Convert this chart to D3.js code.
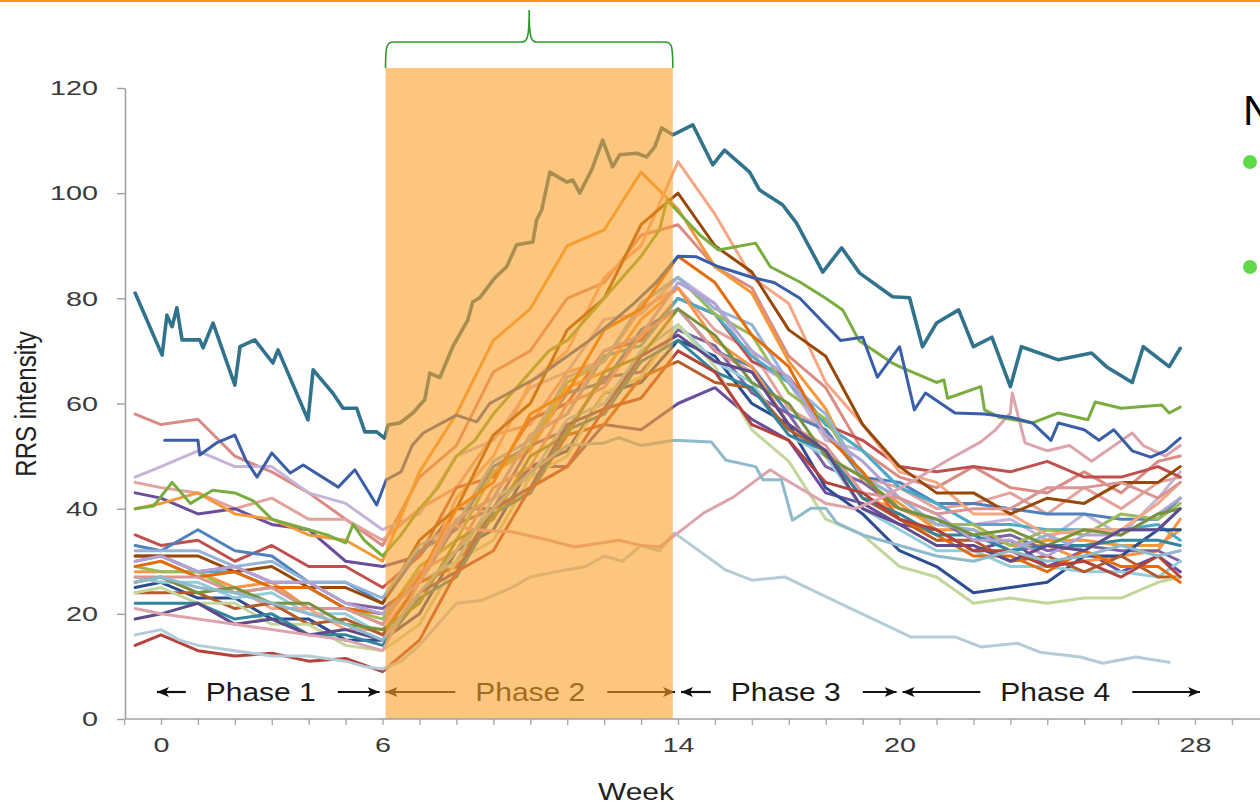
<!DOCTYPE html>
<html><head><meta charset="utf-8">
<script src="https://cdn.jsdelivr.net/npm/d3@7"></script>
<style>html,body{margin:0;padding:0;background:#fff;overflow:hidden}svg{display:block}</style>
</head><body><svg id="c" width="1260" height="807"></svg>
<script>
// ---------- DATA ----------
const yTicks = [0, 20, 40, 60, 80, 100, 120];
const xTickLabels = [0, 6, 14, 20, 28];
const xMinorTicks = d3.range(-1, 30);
const phaseNames = ["Phase 1", "Phase 2", "Phase 3", "Phase 4"];
const phaseStarts = [0, 6, 14, 20];
const phaseEnds = [6, 14, 20, 28];
const phase2Band = [6.08, 13.86];

// common weekly grid for most subjects
const weekGrid = [-0.7, 0, 1, 2, 3, 4, 5, 6, 7, 8, 9, 10, 11, 12, 13, 14, 15, 16, 17, 18, 19, 20, 21, 22, 23, 24, 25, 26, 27, 27.6];
const salmon    = [58, 56, 57, 50, 47, 43, 38, 33, 46, 52, 66, 70, 80, 83, 92, 94, 86, 82, 69, 63, 51, 46, 44, 48, 44, 43, 47, 43, 49, 50];
const lavender  = [46, 48, 51, 48, 48, 43, 41, 36, 39, 50, 53, 63, 66, 76, 77, 84, 79, 68, 64, 53, 51, 44, 41, 37, 38, 34, 39, 35, 42, 47];
const pink2     = [45, 44, 43, 40, 42, 38, 38, 34, 40, 44, 54, 56, 66, 68, 78, 82, 74, 70, 59, 55, 46, 44, 40, 41, 43, 39, 44, 40, 45, 46];
const purple    = [43, 42, 39, 40, 37, 36, 30, 29, 31, 40, 40, 48, 48, 56, 55, 60, 63, 57, 53, 43, 41, 37, 36, 32, 34, 29, 32, 28, 31, 28];
const orange    = [40, 41, 43, 39, 38, 35, 34, 30, 47, 58, 72, 78, 90, 93, 104, 97, 86, 81, 68, 59, 45, 41, 36, 36, 33, 34, 34, 33, 33, 36];
const red       = [35, 33, 34, 30, 33, 29, 29, 25, 31, 44, 46, 57, 60, 70, 72, 80, 77, 68, 65, 56, 53, 48, 47, 48, 47, 49, 46, 46, 48, 46];
const blue2     = [33, 32, 36, 32, 31, 26, 26, 22, 32, 36, 48, 52, 62, 64, 74, 78, 70, 67, 58, 55, 46, 45, 41, 41, 40, 39, 39, 38, 38, 42];
const cyan      = [30, 31, 28, 28, 25, 25, 21, 20, 26, 38, 42, 54, 58, 69, 71, 80, 77, 69, 64, 56, 51, 44, 41, 37, 37, 36, 36, 36, 37, 34];
const orange2   = [28, 28, 28, 25, 26, 21, 21, 18, 29, 34, 47, 51, 63, 66, 76, 82, 72, 67, 56, 51, 42, 40, 37, 37, 33, 33, 30, 31, 32, 38];
const purple3   = [31, 31, 28, 29, 26, 26, 22, 21, 26, 37, 40, 52, 55, 65, 66, 74, 71, 62, 58, 48, 45, 40, 38, 34, 35, 32, 33, 32, 32, 30];
const olive     = [29, 28, 28, 24, 25, 21, 21, 19, 29, 34, 47, 52, 64, 68, 79, 84, 77, 73, 62, 57, 46, 42, 37, 37, 33, 36, 35, 39, 38, 41];
const navy      = [25, 26, 23, 23, 19, 19, 15, 15, 20, 32, 36, 48, 51, 62, 64, 72, 69, 60, 56, 44, 39, 32, 29, 24, 25, 26, 31, 31, 36, 36];
const lightCyan = [27, 26, 26, 23, 24, 20, 20, 16, 26, 30, 42, 46, 57, 60, 70, 75, 68, 64, 54, 50, 40, 36, 32, 32, 29, 29, 28, 28, 27, 30];
const peach     = [26, 27, 24, 25, 21, 21, 17, 17, 26, 42, 50, 64, 70, 84, 90, 106, 96, 84, 79, 64, 56, 47, 45, 39, 39, 35, 36, 36, 41, 45];
const rust      = [24, 24, 24, 21, 22, 18, 19, 16, 26, 29, 40, 43, 54, 56, 65, 68, 64, 63, 55, 51, 42, 38, 34, 34, 30, 31, 28, 31, 27, 27];
const brown     = [31, 31, 31, 28, 29, 25, 25, 22, 34, 40, 54, 60, 74, 80, 94, 100, 90, 85, 74, 69, 56, 48, 43, 43, 39, 42, 41, 45, 45, 48];
const paleGreen = [24, 25, 22, 22, 18, 18, 14, 13, 18, 30, 34, 46, 50, 62, 65, 75, 67, 55, 49, 38, 35, 29, 27, 22, 23, 22, 23, 23, 26, 27];
const lightBlue2= [32, 32, 32, 29, 30, 26, 26, 23, 33, 37, 49, 53, 65, 68, 79, 84, 78, 75, 64, 58, 46, 42, 37, 36, 32, 35, 32, 36, 36, 40];
const darkOrange= [29, 30, 27, 28, 25, 25, 21, 20, 27, 40, 45, 58, 62, 74, 78, 88, 83, 73, 67, 54, 47, 38, 35, 31, 31, 28, 32, 29, 29, 26];
const darkCyan  = [22, 22, 22, 19, 20, 16, 16, 14, 23, 27, 39, 43, 55, 58, 68, 72, 66, 63, 54, 51, 42, 39, 35, 35, 32, 33, 33, 34, 34, 33];
const lavender2 = [30, 31, 28, 29, 26, 26, 22, 20, 26, 38, 42, 54, 58, 70, 73, 83, 79, 70, 65, 54, 49, 42, 39, 34, 34, 31, 35, 35, 39, 42];
const rosy      = [27, 27, 27, 24, 25, 21, 21, 18, 28, 32, 44, 48, 60, 63, 73, 78, 70, 66, 56, 52, 43, 42, 39, 40, 40, 44, 44, 45, 42, 45];
const darkOlive = [26, 27, 24, 25, 22, 22, 18, 17, 22, 34, 38, 50, 54, 66, 69, 78, 73, 64, 60, 50, 46, 40, 38, 35, 36, 33, 36, 35, 39, 40];
const purple2   = [19, 20, 22, 18, 19, 16, 17, 15, 24, 28, 40, 44, 56, 59, 69, 73, 68, 66, 56, 51, 40, 37, 33, 33, 30, 33, 32, 36, 36, 40];
const red2      = [14, 16, 13, 12, 12.5, 11, 11.5, 9, 15, 28, 32, 44, 48, 59, 61, 70, 66, 56, 53, 45, 43, 38, 36, 32, 32, 29, 30, 27, 31, 27];

// finely traced subjects: [week, RRS]
const tealTop = [[-0.7,81],[0.03,69.2],[0.16,76.8],[0.3,74.6],[0.43,78.2],[0.57,72.1],[1.05,72.1],[1.14,70.6],[1.41,75.3],[2.0,63.5],[2.14,70.8],[2.54,72.1],[3.03,67.7],[3.17,70.2],[3.98,56.9],[4.12,66.4],[4.65,62.0],[4.93,59.1],[5.3,59.1],[5.52,54.6],[5.84,54.6],[6.05,53.4],[6.15,55.9],[6.47,56.3],[6.82,58.2],[7.14,60.7],[7.28,65.8],[7.55,64.9],[7.9,70.8],[8.31,75.9],[8.44,79.3],[8.63,80.1],[9.04,83.9],[9.36,86.0],[9.63,90.2],[10.07,90.7],[10.17,94.9],[10.31,96.8],[10.53,104.0],[10.99,102.1],[11.15,102.5],[11.34,100.0],[11.66,104.4],[11.96,110.1],[12.23,105.0],[12.42,107.3],[12.88,107.6],[13.15,106.9],[13.37,108.8],[13.56,112.4],[13.86,111.1],[14.4,113.0],[14.94,105.4],[15.26,108.2],[15.94,104.0],[16.21,100.6],[16.83,97.8],[17.21,94.3],[17.92,85.0],[18.43,89.6],[18.92,84.8],[19.81,80.3],[20.27,80.1],[20.62,70.8],[21.0,75.3],[21.6,77.8],[22.0,70.8],[22.5,72.6],[23.0,63.2],[23.3,70.8],[24.3,68.3],[25.2,69.6],[25.6,67.0],[26.3,64.0],[26.6,70.8],[27.3,67.0],[27.6,70.5]];
const blueMain = [[0.1,53],[1.0,53],[1.05,50.2],[1.5,52.5],[2.0,54],[2.3,49.2],[2.6,46],[3.0,50.6],[3.5,46.8],[3.85,48.3],[4.8,44.1],[5.25,47.4],[5.84,40.7],[6.1,45.5],[6.5,47],[6.8,52],[7.1,54.4],[8.0,57.8],[8.55,56.5],[8.9,60],[10.2,65],[11,69],[11.6,72],[12.3,76],[12.8,79],[13.4,83],[14.0,88],[14.5,87.9],[15.1,86],[16.0,84],[16.6,83],[17.3,80],[18.4,72],[19.0,72.6],[19.4,65],[20.0,70.8],[20.4,58.8],[20.7,62],[21.5,58.2],[22.3,58],[23.0,57.4],[23.6,56.3],[24.1,53],[24.3,56.3],[25.0,55],[25.4,53],[25.8,55],[26.3,51],[26.8,49.8],[27.2,51],[27.6,53.4]];
const greenMain = [[-0.7,40],[-0.2,40.5],[0.3,45],[0.8,41],[1.4,43.5],[2.0,43],[2.5,41.5],[3.0,38],[3.5,37],[4.0,36],[4.5,35],[5.0,33.5],[5.2,37],[5.5,34],[6.0,31],[6.5,35],[7,40],[7.5,44],[8,50],[8.5,53],[9,58],[9.5,62],[10,66],[10.5,70],[11,72],[11.5,76],[12,80],[12.5,84],[13,88],[13.5,93],[13.7,98.7],[14.6,92],[15.1,89.2],[16.1,90.5],[16.5,86],[17.3,83.1],[18.0,80],[18.46,77.8],[18.9,72],[19.8,67.7],[20.0,67],[21.0,64],[21.2,64.5],[21.3,61],[22.2,63.2],[22.3,58.8],[22.7,57.4],[23.6,56.3],[24.3,58.2],[25.1,56.9],[25.3,60.3],[26.0,59.1],[27.1,59.7],[27.3,58.2],[27.6,59.3]];
const lightBlueMain = [[-0.7,26],[0,27],[1,25],[2,24],[3,22],[4,20],[5,18],[6,15],[7,24],[8,32],[9,40],[10,47],[11,52],[12,52.5],[12.4,53.5],[13,52],[13.9,53],[14.9,52.7],[15.3,49.2],[16.1,48],[16.3,45.5],[16.8,45.5],[17.1,37.8],[17.6,40.1],[18.0,40.1],[18.3,37.3],[19,35],[20,33],[21,31],[22,30],[23,32],[24,30],[25,31],[26,33],[27,31],[27.6,32]];
const roseMain = [[-0.7,21],[0,20],[1,19],[2,18],[3,17],[4,16],[5,15],[6,13],[7,26],[7.8,37],[8.5,36],[9.5,35.6],[10.5,34],[11.2,32.7],[12.4,34],[13,33],[13.5,32.7],[14,35.4],[14.7,39.2],[15.5,42.2],[16.5,47.4],[16.8,46],[17.4,43.5],[18,41],[18.8,40],[19.5,42],[20.3,45],[21.3,49.2],[22.2,52.7],[22.6,55],[23.0,58.2],[23.05,62],[23.4,52.5],[24,51],[24.6,52],[25.2,49],[26.3,54.4],[26.6,52],[27.2,50],[27.6,52]];
const paleMain = [[-0.7,16],[0,17],[0.5,15],[1,14],[2,13],[3,12],[4,12],[5,11],[5.5,10],[6,9.5],[6.5,11],[7,14],[7.5,18],[8,22],[8.7,22.6],[9.5,25],[10,27],[10.7,28],[11.5,29],[12,31],[12.5,30],[13,33],[13.5,32],[13.9,35.4],[15.3,28.3],[16.0,26.4],[16.9,27],[18.2,22.6],[19.5,18.3],[20.3,15.6],[21.5,15.6],[22.2,13.7],[23.2,14.4],[23.8,12.7],[24.9,11.8],[25.5,10.6],[26.4,11.8],[27.3,10.8]];

const gridSeries = [salmon, lavender, pink2, purple, orange, red, blue2, cyan, orange2, purple3, olive, navy, lightCyan, peach, rust, brown, paleGreen, lightBlue2, darkOrange, darkCyan, lavender2, rosy, darkOlive, purple2, red2];
const gridColors = ["#d98b84","#c5b4d8","#e3a39c","#6b4d9e","#f4993a","#c0504d","#4f81bd","#4bacc6","#f79646","#8064a2","#9bbb59","#2c4d8f","#93cddd","#f5a784","#b65c2a","#984807","#c3d69b","#95b3d7","#e46c0a","#31859c","#b3a2d3","#d99694","#77933c","#5f4b8b","#b5413b"];
const tracedSeries = [paleMain, roseMain, lightBlueMain, greenMain, blueMain, tealTop];
const tracedColors = ["#b4cbd8","#dca4ad","#8ebacb","#79ad3e","#3a5fa8","#31738d"];

// ---------- DRAW ----------
const svg = d3.select("#c");
const font = "'Liberation Sans', Arial, sans-serif";
const x = d3.scaleLinear().domain([0, 28]).range([161, 1195]);
const y = d3.scaleLinear().domain([0, 120]).range([719, 88]);

svg.append("rect").attr("x",0).attr("y",0).attr("width",1260).attr("height",2).attr("fill","#f59a12");

const line = d3.line().x(d => x(d[0])).y(d => y(d[1])).defined(d => d[1] != null);
const gLines = svg.append("g").attr("fill","none").attr("stroke-linejoin","round").attr("stroke-linecap","round");
gridSeries.forEach((vals, i) => {
  gLines.append("path").attr("d", line(weekGrid.map((w, j) => [w, vals[j]])))
    .attr("stroke", gridColors[i]).attr("stroke-width", 3);
});
tracedSeries.forEach((pts, i) => {
  gLines.append("path").attr("d", line(pts)).attr("stroke", tracedColors[i])
    .attr("stroke-width", i === tracedSeries.length - 1 ? 3.6 : 3);
});

// phase labels with arrows
const defs = svg.append("defs");
defs.append("marker").attr("id","ah").attr("viewBox","0 0 12 10").attr("refX",12).attr("refY",5)
  .attr("markerWidth",12).attr("markerHeight",10).attr("markerUnits","userSpaceOnUse").attr("orient","auto")
  .append("path").attr("d","M0,0 L12,5 L0,10 L3,5 Z").attr("fill","#111");
const labelShift = [-11, 0, -3, 8];
const gPh = svg.append("g");
phaseNames.forEach((name, i) => {
  const a = x(phaseStarts[i]) + (i === 0 ? -4 : 3), b = x(phaseEnds[i]) - (i === 3 ? -5 : 3);
  const c = (x(phaseStarts[i]) + x(phaseEnds[i])) / 2 + labelShift[i];
  gPh.append("text").attr("x", c).attr("y", 701).attr("text-anchor","middle")
    .attr("font-family", font).attr("font-size", 26).attr("fill","#1a1a1a")
    .attr("textLength", 110).attr("lengthAdjust","spacingAndGlyphs").text(name);
  gPh.append("line").attr("x1", c - 75).attr("x2", a).attr("y1", 692).attr("y2", 692)
    .attr("stroke","#111").attr("stroke-width",2.2).attr("marker-end","url(#ah)");
  gPh.append("line").attr("x1", c + 77).attr("x2", b).attr("y1", 692).attr("y2", 692)
    .attr("stroke","#111").attr("stroke-width",2.2).attr("marker-end","url(#ah)");
});

// highlighted phase-2 band
const bx0 = x(phase2Band[0]), bx1 = x(phase2Band[1]);
svg.append("rect").attr("x", bx0).attr("y", 68).attr("width", bx1 - bx0).attr("height", y(0) - 68)
  .attr("fill", "rgb(250,160,40)").attr("fill-opacity", 0.6);

// brace above band
const mid = (bx0 + bx1) / 2;
svg.append("path").attr("fill","none").attr("stroke","#2e9a2e").attr("stroke-width",1.6)
  .attr("d", `M${bx0},68 C${bx0},46 ${bx0+1},42 ${bx0+8},42 L${mid-7},42 C${mid-2},42 ${mid},38 ${mid},10 C${mid},38 ${mid+2},42 ${mid+7},42 L${bx1-8},42 C${bx1-1},42 ${bx1},46 ${bx1},68`);

// axes
const yAx = svg.append("g").attr("transform","translate(125,0)")
  .call(d3.axisLeft(y).tickValues(yTicks).tickSize(8).tickSizeOuter(0).tickPadding(19));
yAx.select(".domain").attr("stroke","#a0a0a0").attr("stroke-width",1.6);
yAx.selectAll(".tick line").attr("stroke","#a0a0a0").attr("stroke-width",1.4);
yAx.selectAll(".tick text").attr("font-family", font).attr("font-size", 21).attr("fill","#3a3a3a")
  .attr("textLength", d => String(d).length * 16).attr("lengthAdjust","spacingAndGlyphs");

const xAx = svg.append("g").attr("transform",`translate(0,${y(0)})`)
  .call(d3.axisBottom(x).tickValues(xMinorTicks).tickSize(6).tickSizeOuter(0).tickPadding(12)
    .tickFormat(d => xTickLabels.includes(d) ? d : ""));
xAx.select(".domain").remove();
xAx.append("line").attr("x1", 125).attr("x2", 1260).attr("y1", 0).attr("y2", 0).attr("stroke","#a0a0a0").attr("stroke-width",1.6);
xAx.selectAll(".tick line").attr("stroke","#a8a8a8").attr("stroke-width",1.4);
xAx.selectAll(".tick text").attr("font-family", font).attr("font-size", 21).attr("fill","#3a3a3a")
  .filter(d => xTickLabels.includes(d))
  .attr("textLength", d => String(d).length * 16).attr("lengthAdjust","spacingAndGlyphs");

// axis titles
svg.append("text").attr("transform","translate(36,404) scale(1.2,1) rotate(-90)").attr("text-anchor","middle")
  .attr("font-family", font).attr("font-size", 24).attr("fill","#222").text("RRS intensity");
svg.append("text").attr("x", 636).attr("y", 800).attr("text-anchor","middle")
  .attr("font-family", font).attr("font-size", 24).attr("fill","#222")
  .attr("textLength", 76).attr("lengthAdjust","spacingAndGlyphs").text("Week");

// slide text at right edge
svg.append("text").attr("x", 1243).attr("y", 125).attr("font-family", font).attr("font-size", 42).attr("fill","#000").text("N");
svg.append("circle").attr("cx",1250).attr("cy",162).attr("r",7).attr("fill","#62d84b");
svg.append("circle").attr("cx",1250).attr("cy",267).attr("r",7).attr("fill","#62d84b");
</script></body></html>
